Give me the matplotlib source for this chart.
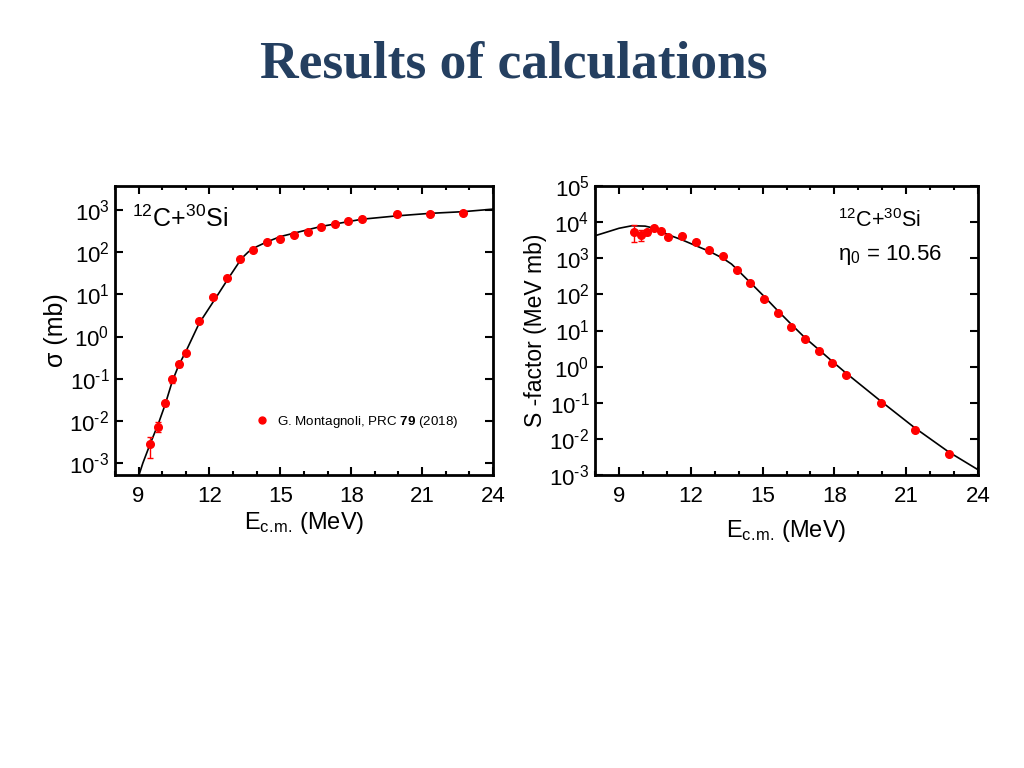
import numpy as np
import matplotlib
matplotlib.use("Agg")
import matplotlib.pyplot as plt
from matplotlib.lines import Line2D
from matplotlib.ticker import MultipleLocator, LogLocator, NullLocator, FuncFormatter

# ----------------------
# Data
# ----------------------
# left panel: cross section (mb)
e_sig = [9.50, 9.84, 10.12, 10.42, 10.70, 11.00, 11.56, 12.14, 12.73, 13.29, 13.86,
         14.42, 15.00, 15.57, 16.15, 16.73, 17.31, 17.88, 18.45, 19.92, 21.34, 22.75]
sig = [2.8e-3, 7.3e-3, 0.026, 0.096, 0.22, 0.41, 2.33, 8.8, 24, 70, 110,
       171, 200, 251, 296, 388, 474, 559, 601, 789, 803, 832]
sig_lo = [1.5e-3, 1.9e-3, 0.004, 0.015, 0.03] + [0] * 17
sig_hi = [1.4e-3, 2.2e-3, 0.004, 0.015, 0.03] + [0] * 17

e_sig_calc = [8.95, 9.18, 9.50, 9.84, 10.12, 10.42, 10.70, 11.00, 11.56, 12.30, 12.80,
              13.36, 13.65, 14.00, 14.42, 15.00, 16.15, 16.73, 18.45, 19.92, 21.34, 22.75, 24.0]
sig_calc = [4.0e-4, 1.0e-3, 2.95e-3, 8.7e-3, 0.024, 0.085, 0.21, 0.44, 2.04, 8.8, 24,
            71, 102, 135, 174, 234, 339, 407, 603, 724, 832, 912, 1047]

# right panel: S-factor (MeV mb)
e_s = [9.61, 9.91, 10.19, 10.48, 10.77, 11.06, 11.63, 12.20, 12.78, 13.34, 13.92,
       14.48, 15.07, 15.63, 16.20, 16.77, 17.35, 17.92, 18.49, 19.93, 21.35, 22.77]
s_fac = [5380, 4350, 5170, 7100, 5740, 4000, 4180, 2910, 1680, 1170, 482,
         202, 74.8, 30.1, 12.4, 5.89, 2.69, 1.28, 0.60, 0.101, 0.0174, 0.0037]
s_lo = [2645, 1330, 800] + [0] * 19
s_hi = [2840, 1680, 800] + [0] * 19

e_s_calc = [8.0, 8.57, 9.0, 9.54, 10.09, 10.48, 11.06, 11.63, 12.20, 12.78, 13.34, 13.70,
            13.92, 14.48, 15.07, 15.63, 16.20, 16.77, 17.35, 17.92, 18.49, 19.93, 21.35,
            22.77, 24.0]
s_calc = [4200, 5500, 6760, 7940, 7760, 6760, 4470, 3240, 2240, 1550, 1000, 692,
          501, 214, 87, 35.5, 14.8, 6.3, 2.95, 1.38, 0.66, 0.112, 0.0204,
          0.00437, 0.00140]

xticks = [9, 12, 15, 18, 21, 24]

# ----------------------
# Style
# ----------------------
plt.rcParams["font.family"] = ["Liberation Sans", "DejaVu Sans"]
plt.rcParams["mathtext.fontset"] = "custom"
plt.rcParams["mathtext.rm"] = "Liberation Sans"
plt.rcParams["mathtext.it"] = "Liberation Sans:italic"
plt.rcParams["mathtext.bf"] = "Liberation Sans:bold"
plt.rcParams["mathtext.default"] = "regular"
plt.rcParams["axes.unicode_minus"] = False

fig = plt.figure(figsize=(10.24, 7.68), dpi=100)
fig.text(0.502, 1 - 78 / 768, "Results of calculations", ha="center", va="baseline",
         family="Liberation Serif", weight="bold", size=38.5, color="#243f60")

ax1 = fig.add_axes([0.1123, 0.3815, 0.3691, 0.3763])
ax2 = fig.add_axes([0.5811, 0.3815, 0.3740, 0.3763])


def decade_label(v, pos):
    n = int(round(np.log10(v)))
    # short hyphen for the exponent sign, as in the original
    return "10$^{%s}$" % str(n).replace("-", "\u2010")


def style_axis(ax):
    ax.set_yscale("log")
    ax.set_xlim(8, 24)
    ax.set_xticks(xticks)
    ax.xaxis.set_minor_locator(MultipleLocator(1))
    ax.yaxis.set_major_locator(LogLocator(base=10, numticks=20))
    ax.yaxis.set_major_formatter(FuncFormatter(decade_label))
    ax.yaxis.set_minor_locator(NullLocator())
    ax.tick_params(which="both", direction="in", top=True, right=True, width=1.5,
                   labelsize=16)
    ax.tick_params(which="major", length=6)
    ax.tick_params(which="minor", length=3)
    ax.tick_params(axis="x", pad=8)
    ax.tick_params(axis="y", pad=4)
    for sp in ax.spines.values():
        sp.set_linewidth(2)


xlab = "E$_{c.\\!m.\\!}$ (MeV)"

# ----------------------
# Left: cross section
# ----------------------
style_axis(ax1)
ax1.set_ylim(5.2e-4, 3.7e3)
ax1.plot(e_sig_calc, sig_calc, color="black", lw=1.2)
ax1.errorbar(e_sig, sig, yerr=[sig_lo, sig_hi], fmt="o", color="red", ms=5.5,
             elinewidth=1, capsize=2.5)
dot = Line2D([], [], ls="none", marker="o", color="red", ms=5)
ax1.legend([dot], ["G. Montagnoli, PRC $\\mathbf{79}$ (2018)"], loc="center left",
           bbox_to_anchor=(0.34, 0.183), frameon=False, fontsize=9.6,
           handletextpad=0.6, handlelength=1.0)
ax1.text(0.045, 0.885, "$^{12}$C+$^{30}$Si", transform=ax1.transAxes, fontsize=18,
         va="center", ha="left")
ax1.set_xlabel(xlab, fontsize=17, labelpad=2)
ax1.set_ylabel("σ (mb)", fontsize=18, labelpad=1)

# ----------------------
# Right: S-factor
# ----------------------
style_axis(ax2)
ax2.set_ylim(1e-3, 1e5)
ax2.plot(e_s_calc, s_calc, color="black", lw=1.2)
ax2.errorbar(e_s, s_fac, yerr=[s_lo, s_hi], fmt="o", color="red", ms=5.5,
             elinewidth=1, capsize=2.5)
ax2.text(0.635, 0.88, "$^{12}$C+$^{30}$Si", transform=ax2.transAxes, fontsize=15.5,
         va="center", ha="left")
ax2.text(0.635, 0.76, "η$_0$ = 10.56", transform=ax2.transAxes, fontsize=16,
         va="center", ha="left")
ax2.set_xlabel(xlab, fontsize=17, labelpad=8)
ax2.set_ylabel("S -factor (MeV mb)", fontsize=16.5, labelpad=2)

plt.savefig("out.png", dpi=100)
